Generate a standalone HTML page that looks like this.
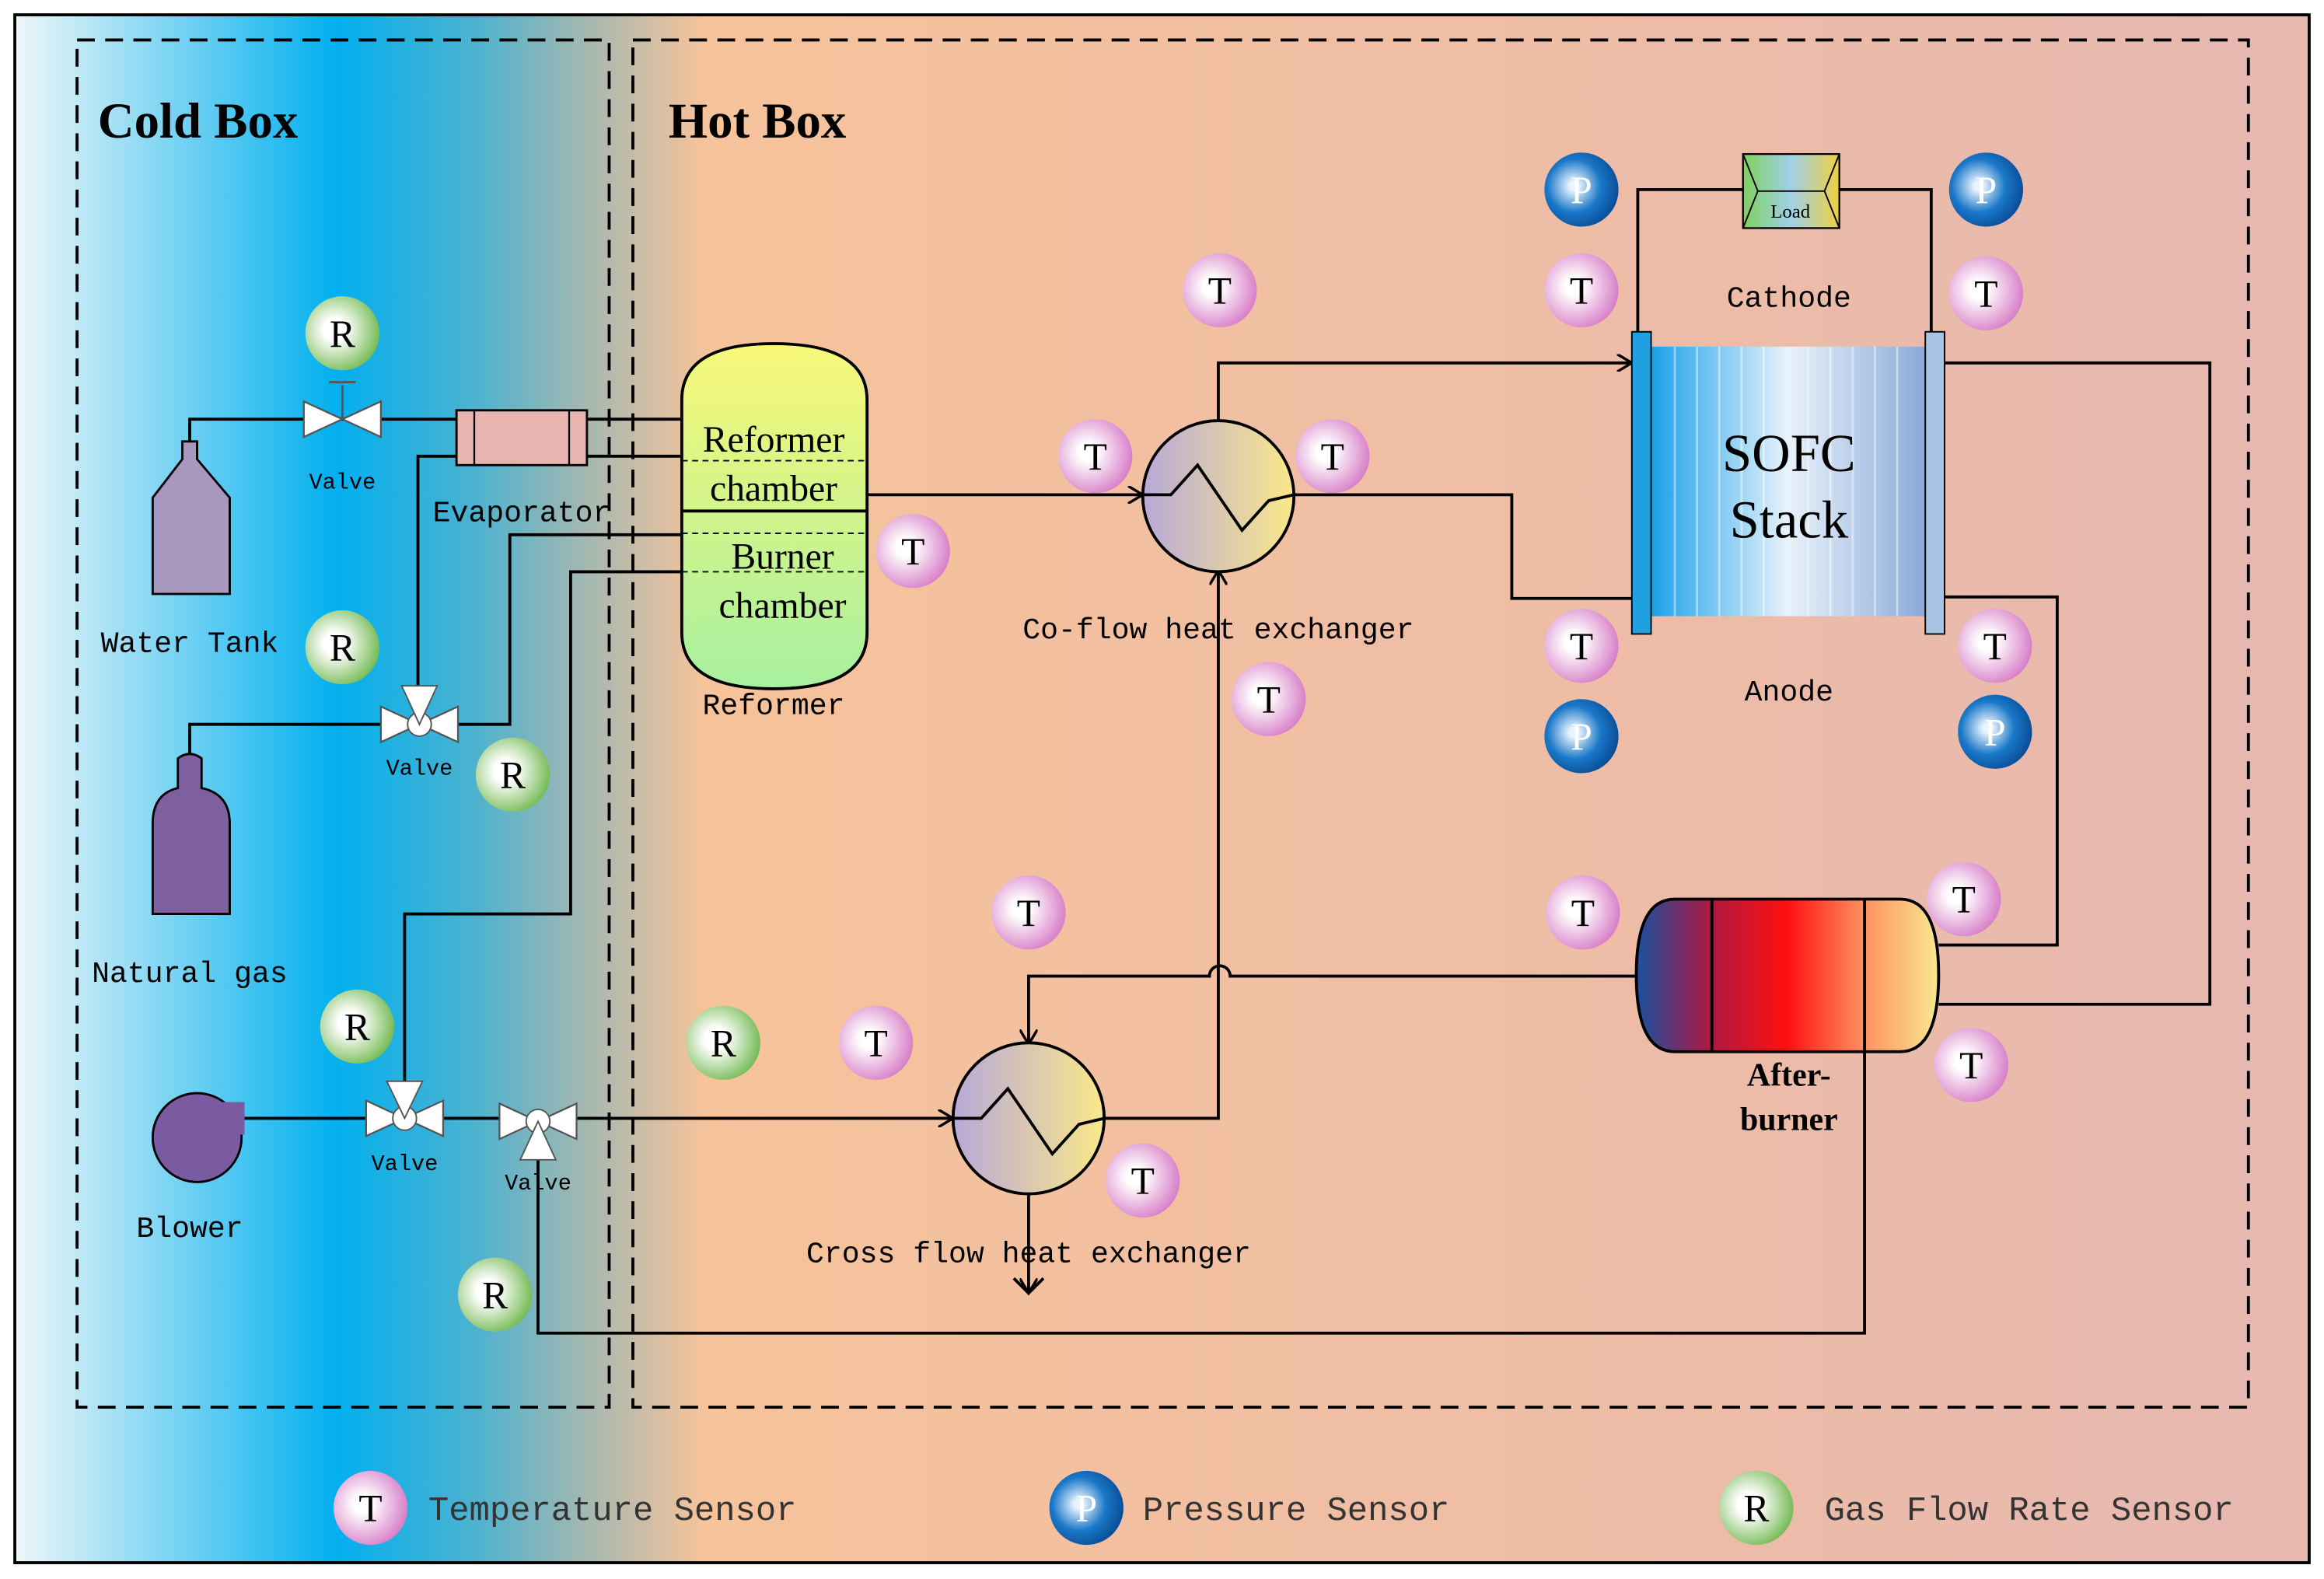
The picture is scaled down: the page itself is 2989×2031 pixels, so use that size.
<!DOCTYPE html>
<html><head><meta charset="utf-8"><style>html,body{margin:0;padding:0;background:#fff}svg{display:block}</style></head><body>
<svg width="2989" height="2031" viewBox="0 0 1568 1066" preserveAspectRatio="none" xmlns="http://www.w3.org/2000/svg">
<defs>
<linearGradient id="bg" x1="0" x2="1" y1="0" y2="0">
<stop offset="0" stop-color="#eef6f8"/><stop offset="0.14" stop-color="#02b0ee"/><stop offset="0.2" stop-color="#4cb2d0"/><stop offset="0.25" stop-color="#a6b8b0"/><stop offset="0.3" stop-color="#f6c39b"/><stop offset="0.6" stop-color="#f0bea4"/><stop offset="1" stop-color="#e6b8b0"/></linearGradient>
<radialGradient id="gT" cx="0.4" cy="0.45" r="0.6"><stop offset="0.2" stop-color="#fff"/><stop offset="1" stop-color="#d880c8"/></radialGradient>
<radialGradient id="gP" cx="0.4" cy="0.45" r="0.6"><stop offset="0.1" stop-color="#eaf4ff"/><stop offset="0.6" stop-color="#1a78c8"/><stop offset="1" stop-color="#0a4e98"/></radialGradient>
<radialGradient id="gR" cx="0.4" cy="0.45" r="0.6"><stop offset="0.25" stop-color="#fff"/><stop offset="1" stop-color="#78bc58"/></radialGradient>
<linearGradient id="ref" x1="0" x2="0" y1="0" y2="1"><stop offset="0" stop-color="#f8f878"/><stop offset="1" stop-color="#a8f0a0"/></linearGradient>
<linearGradient id="hx" x1="0" x2="1"><stop offset="0" stop-color="#b8a8d8"/><stop offset="1" stop-color="#fae88a"/></linearGradient>
<linearGradient id="stk" x1="0" x2="1"><stop offset="0" stop-color="#18a0e8"/><stop offset="0.5" stop-color="#e8f2fa"/><stop offset="1" stop-color="#8aa8d8"/></linearGradient>
<linearGradient id="ab" x1="0" x2="1"><stop offset="0" stop-color="#1a50a0"/><stop offset="0.25" stop-color="#b01840"/><stop offset="0.5" stop-color="#ff1010"/><stop offset="0.75" stop-color="#ff9060"/><stop offset="1" stop-color="#f8e890"/></linearGradient>
<linearGradient id="ld" x1="0" x2="1"><stop offset="0" stop-color="#80d060"/><stop offset="0.5" stop-color="#a0d0e8"/><stop offset="1" stop-color="#f0d040"/></linearGradient>
<marker id="ar" markerWidth="12" markerHeight="12" refX="10" refY="6" orient="auto" markerUnits="userSpaceOnUse"><path d="M0,0 L10,6 L0,12" fill="none" stroke="#000" stroke-width="1.8"/></marker>
<g id="vv"><path d="M-26,-12 L0,0 L-26,12Z M26,-12 L0,0 L26,12Z" fill="#fff" stroke="#555" stroke-width="1.2"/></g>
</defs>
<rect x="10" y="10" width="1548" height="1045" fill="url(#bg)" stroke="#000" stroke-width="2"/>
<rect x="52" y="27" width="359" height="923" fill="none" stroke="#000" stroke-width="2" stroke-dasharray="12,7"/>
<rect x="427" y="27" width="1090" height="923" fill="none" stroke="#000" stroke-width="2" stroke-dasharray="12,7"/>
<g font-family="Liberation Serif, serif" font-weight="bold" font-size="34"><text x="66" y="93">Cold Box</text><text x="451" y="93">Hot Box</text></g>
<g fill="none" stroke="#000" stroke-width="2">
<path d="M128,298 V283 H460"/><path d="M282,463 V308 H460"/>
<path d="M128,512 V489 H344 V361 H460"/>
<path d="M165,755 H643" marker-end="url(#ar)"/>
<path d="M273,730 V617 H385 V386 H460"/>
<path d="M363,783 V900 H1258 V710"/>
<path d="M585,334 H771" marker-end="url(#ar)"/>
<path d="M873,334 H1020 V404 H1101"/>
<path d="M822,284 V245 H1101" marker-end="url(#ar)"/>
<path d="M745,755 H822 V385" marker-end="url(#ar)"/>
<path d="M694,806 V873" marker-end="url(#ar)"/><path d="M684,863 L694,873 L704,863"/>
<path d="M1104,659 H830 A7,7 0 0 0 816,659 H694 V705" marker-end="url(#ar)"/>
<path d="M1312,245 H1491 V678 H1308"/>
<path d="M1312,403 H1388 V638 H1308"/>
<path d="M1105,224 V128 H1176 M1241,128 H1303 V224"/>
</g>
<path d="M123,298 h10 v12 l22,26 v65 h-52 v-65 l20,-26z" fill="#a898c0" stroke="#000" stroke-width="1.5"/>
<path d="M120,512 q8,-6 16,0 v20 q19,4 19,24 v61 h-52 v-61 q0,-20 17,-24z" fill="#7e60a0" stroke="#000" stroke-width="1.5"/>
<circle cx="133" cy="768" r="30" fill="#7a5aa0" stroke="#000" stroke-width="1.5"/><rect x="133" y="744" width="32" height="22" fill="#7a5aa0"/>
<use href="#vv" x="231" y="283"/><path d="M231,283 V260 M222,258 H240" stroke="#555" stroke-width="1.5"/>
<use href="#vv" x="283" y="489"/><circle cx="283" cy="489" r="8" fill="#fff" stroke="#555"/><path d="M271,463 L283,489 L295,463Z" fill="#fff" stroke="#555"/>
<use href="#vv" x="273" y="755"/><circle cx="273" cy="755" r="8" fill="#fff" stroke="#555"/><path d="M261,730 L273,755 L285,730Z" fill="#fff" stroke="#555"/>
<use href="#vv" x="363" y="757"/><circle cx="363" cy="757" r="8" fill="#fff" stroke="#555"/><path d="M351,783 L363,757 L375,783Z" fill="#fff" stroke="#555"/>
<rect x="308" y="277" width="88" height="37" fill="#e8b4b0" stroke="#000" stroke-width="1.5"/><path d="M320,277 v37 M384,277 v37" stroke="#000" stroke-width="1.2"/>
<path d="M460,270 Q460,232 522,232 Q585,232 585,270 V427 Q585,465 522,465 Q460,465 460,427Z" fill="url(#ref)" stroke="#000" stroke-width="2"/>
<path d="M460,345 H585" stroke="#000" stroke-width="2"/><path d="M460,311 H585 M460,360 H585 M460,386 H585" stroke="#000" stroke-width="1" stroke-dasharray="4,3"/>
<circle cx="822" cy="335" r="51" fill="url(#hx)" stroke="#000" stroke-width="2"/>
<path d="M771,334 H790 L808,314 L838,358 L856,338 L873,334" fill="none" stroke="#000" stroke-width="2"/>
<circle cx="694" cy="755" r="51" fill="url(#hx)" stroke="#000" stroke-width="2"/>
<path d="M643,755 H662 L680,735 L710,779 L728,759 L745,755" fill="none" stroke="#000" stroke-width="2"/>
<rect x="1113" y="234" width="187" height="182" fill="url(#stk)"/>
<g stroke="#ffffff" stroke-opacity="0.45" stroke-width="1.5"><path d="M1130,234v182M1145,234v182M1160,234v182M1175,234v182M1190,234v182M1220,234v182M1235,234v182M1250,234v182M1265,234v182M1280,234v182"/></g>
<rect x="1101" y="224" width="13" height="204" fill="#20a0e0" stroke="#000" stroke-width="1"/>
<rect x="1299" y="224" width="13" height="204" fill="#a8c4e4" stroke="#000" stroke-width="1"/>
<rect x="1176" y="104" width="65" height="50" fill="url(#ld)" stroke="#000" stroke-width="1.2"/>
<path d="M1176,104 L1186,129 L1176,154 M1241,104 L1231,129 L1241,154 M1186,129 H1231" stroke="#000" stroke-width="1" fill="none"/>
<text x="1208" y="147" font-family="Liberation Serif, serif" font-size="13" text-anchor="middle">Load</text>
<path d="M1130,607 H1282 Q1308,607 1308,658 Q1308,710 1282,710 H1130 Q1104,710 1104,658 Q1104,607 1130,607Z" fill="url(#ab)" stroke="#000" stroke-width="2"/>
<path d="M1155,607 V710 M1258,607 V710" stroke="#000" stroke-width="2"/>
<g font-family="Liberation Mono, monospace" font-size="20" fill="#000">
<text x="128" y="440" text-anchor="middle">Water Tank</text>
<text x="128" y="663" text-anchor="middle">Natural gas</text>
<text x="128" y="835" text-anchor="middle">Blower</text>
<text x="352" y="352" text-anchor="middle">Evaporator</text>
<text x="522" y="482" text-anchor="middle">Reformer</text>
<text x="822" y="431" text-anchor="middle">Co-flow heat exchanger</text>
<text x="694" y="852" text-anchor="middle">Cross flow heat exchanger</text>
<text x="1207" y="207" text-anchor="middle">Cathode</text>
<text x="1207" y="473" text-anchor="middle">Anode</text>
</g>
<g font-family="Liberation Mono, monospace" font-size="15" text-anchor="middle"><text x="231" y="330">Valve</text><text x="283" y="523">Valve</text><text x="273" y="790">Valve</text><text x="363" y="803">Valve</text></g>
<g font-family="Liberation Serif, serif" font-size="25" text-anchor="middle"><text x="522" y="305">Reformer</text><text x="522" y="338">chamber</text><text x="528" y="384">Burner</text><text x="528" y="417">chamber</text></g>
<g font-family="Liberation Serif, serif" font-size="36" text-anchor="middle"><text x="1207" y="318">SOFC</text><text x="1207" y="363">Stack</text></g>
<g font-family="Liberation Serif, serif" font-size="22" font-weight="bold" text-anchor="middle"><text x="1207" y="733">After-</text><text x="1207" y="763">burner</text></g>
<g font-family="Liberation Serif, serif" font-size="26" text-anchor="middle" stroke-width="0">
<g fill="url(#gR)"><circle cx="231" cy="225" r="25"/><circle cx="231" cy="437" r="25"/><circle cx="346" cy="523" r="25"/><circle cx="241" cy="693" r="25"/><circle cx="488" cy="704" r="25"/><circle cx="334" cy="874" r="25"/><circle cx="1185" cy="1018" r="25"/></g>
<g fill="url(#gT)"><circle cx="823" cy="196" r="25"/><circle cx="739" cy="308" r="25"/><circle cx="899" cy="308" r="25"/><circle cx="616" cy="372" r="25"/><circle cx="856" cy="472" r="25"/><circle cx="1067" cy="196" r="25"/><circle cx="1340" cy="198" r="25"/><circle cx="1067" cy="436" r="25"/><circle cx="1346" cy="436" r="25"/><circle cx="694" cy="616" r="25"/><circle cx="1068" cy="616" r="25"/><circle cx="1325" cy="607" r="25"/><circle cx="591" cy="704" r="25"/><circle cx="771" cy="797" r="25"/><circle cx="1330" cy="719" r="25"/><circle cx="250" cy="1018" r="25"/></g>
<g fill="url(#gP)"><circle cx="1067" cy="128" r="25"/><circle cx="1340" cy="128" r="25"/><circle cx="1067" cy="497" r="25"/><circle cx="1346" cy="494" r="25"/><circle cx="733" cy="1018" r="25"/></g>
<g fill="#000"><text x="231" y="234">R</text><text x="231" y="446">R</text><text x="346" y="532">R</text><text x="241" y="702">R</text><text x="488" y="713">R</text><text x="334" y="883">R</text><text x="1185" y="1027">R</text>
<text x="823" y="205">T</text><text x="739" y="317">T</text><text x="899" y="317">T</text><text x="616" y="381">T</text><text x="856" y="481">T</text><text x="1067" y="205">T</text><text x="1340" y="207">T</text><text x="1067" y="445">T</text><text x="1346" y="445">T</text><text x="694" y="625">T</text><text x="1068" y="625">T</text><text x="1325" y="616">T</text><text x="591" y="713">T</text><text x="771" y="806">T</text><text x="1330" y="728">T</text><text x="250" y="1027">T</text></g>
<g fill="#fff"><text x="1067" y="137">P</text><text x="1340" y="137">P</text><text x="1067" y="506">P</text><text x="1346" y="503">P</text><text x="733" y="1027">P</text></g>
</g>
<g font-family="Liberation Mono, monospace" font-size="23" fill="#333"><text x="289" y="1026">Temperature Sensor</text><text x="771" y="1026">Pressure Sensor</text><text x="1231" y="1026">Gas Flow Rate Sensor</text></g>
</svg>
</body></html>
